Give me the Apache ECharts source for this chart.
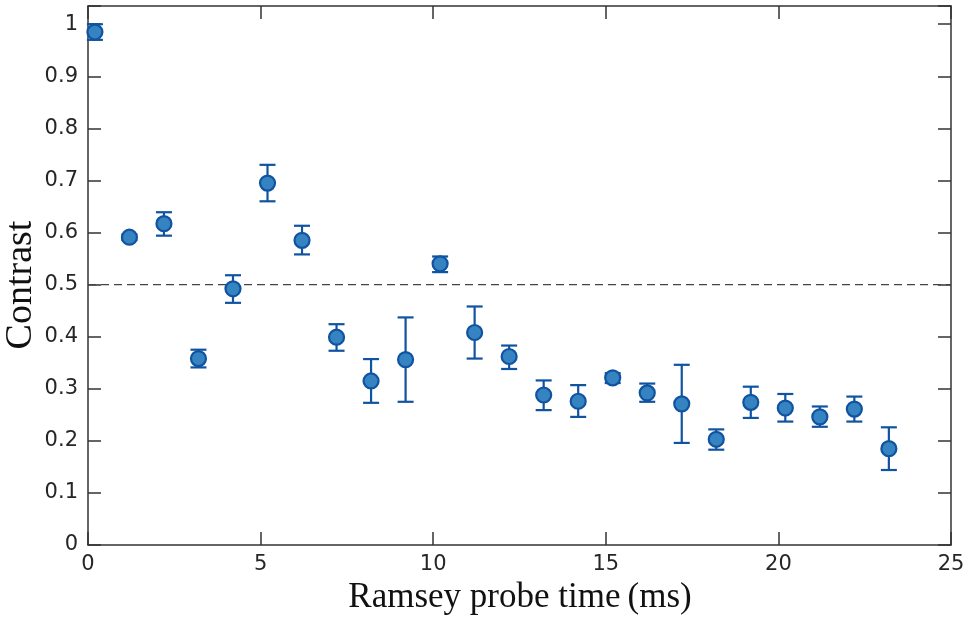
<!DOCTYPE html>
<html>
<head>
<meta charset="utf-8">
<script src="https://cdn.jsdelivr.net/npm/echarts@6/dist/echarts.min.js"></script>
<style>
  html, body { margin: 0; padding: 0; background: #fff; }
  #chart { width: 969px; height: 621px; }
</style>
</head>
<body>
<div id="chart"></div>
<script>
// Ramsey probe time (ms)
const probeTime = [0.2, 1.2, 2.2, 3.2, 4.2, 5.2, 6.2, 7.2, 8.2, 9.2, 10.2, 11.2,
                   12.2, 13.2, 14.2, 15.2, 16.2, 17.2, 18.2, 19.2, 20.2, 21.2, 22.2, 23.2];
// Measured contrast
const contrast = [0.985, 0.591, 0.617, 0.358, 0.492, 0.695, 0.585, 0.399, 0.315, 0.356, 0.540, 0.408,
                  0.362, 0.288, 0.276, 0.321, 0.292, 0.271, 0.203, 0.274, 0.263, 0.246, 0.261, 0.185];
// Error bar ends
const errLow  = [0.970, 0.586, 0.594, 0.341, 0.465, 0.660, 0.558, 0.373, 0.273, 0.275, 0.524, 0.358,
                 0.338, 0.259, 0.246, 0.311, 0.275, 0.196, 0.183, 0.244, 0.237, 0.227, 0.237, 0.144];
const errHigh = [1.000, 0.596, 0.639, 0.375, 0.518, 0.730, 0.613, 0.424, 0.357, 0.437, 0.554, 0.458,
                 0.383, 0.316, 0.307, 0.330, 0.310, 0.346, 0.222, 0.304, 0.290, 0.266, 0.285, 0.226];
// Reference level
const threshold = 0.5;

const xTicks = { min: 0, max: 25, interval: 5 };
const yTicks = { min: 0, max: 1.035, interval: 0.1 };

const xTitle = 'Ramsey probe time\u2009(ms)';
const yTitle = 'Contrast';

const axisColor = '#333';
const labelColor = '#262626';
const markColor = '#1053a0';
const fillColor = '#3583c1';
const labelFont = 'DejaVu Sans';

const points = probeTime.map((t, i) => [t, contrast[i]]);
const bars = probeTime.map((t, i) => [t, errLow[i], errHigh[i]]);

function yLabel(v) {
  const r = Math.round(v * 10) / 10;
  if (Math.abs(r - v) > 1e-6 || v > 1.0001) return '';
  return String(r);
}

function frameAxis(extra) {
  return Object.assign({
    axisLine: { show: true, onZero: false, lineStyle: { color: axisColor, width: 1.5 } },
    axisTick: { show: true, inside: true, length: 13, lineStyle: { color: axisColor, width: 1.5 } },
    splitLine: { show: false }
  }, extra);
}

const chart = echarts.init(document.getElementById('chart'), null, { renderer: 'canvas' });

chart.setOption({
  animation: false,
  grid: { left: 88, right: 18, top: 6, bottom: 76, containLabel: false, outerBoundsMode: 'none' },
  xAxis: [
    frameAxis({
      type: 'value', position: 'bottom',
      min: xTicks.min, max: xTicks.max, interval: xTicks.interval,
      axisLabel: { color: labelColor, fontFamily: labelFont, fontSize: 21, margin: 9 }
    }),
    frameAxis({
      type: 'value', position: 'top',
      min: xTicks.min, max: xTicks.max, interval: xTicks.interval,
      axisLabel: { show: false }
    })
  ],
  yAxis: [
    frameAxis({
      type: 'value', position: 'left',
      min: yTicks.min, max: yTicks.max, interval: yTicks.interval,
      axisLabel: { color: labelColor, fontFamily: labelFont, fontSize: 21, margin: 10, formatter: yLabel }
    }),
    frameAxis({
      type: 'value', position: 'right',
      min: yTicks.min, max: yTicks.max, interval: yTicks.interval,
      axisLabel: { show: false }
    })
  ],
  graphic: [
    {
      type: 'text', x: 520, y: 598,
      style: { text: xTitle, font: '35px "Liberation Serif"', fill: '#111',
               align: 'center', verticalAlign: 'middle' }
    },
    {
      type: 'text', x: 21, y: 285, rotation: Math.PI / 2,
      style: { text: yTitle, font: '38px "Liberation Serif"', fill: '#111',
               align: 'center', verticalAlign: 'middle' }
    }
  ],
  series: [
    {
      type: 'line',
      data: [[xTicks.min, threshold], [xTicks.max, threshold]],
      symbol: 'none', silent: true,
      lineStyle: { color: '#444', width: 1.3, type: [8, 5] },
      z: 1
    },
    {
      type: 'custom',
      data: bars,
      encode: { x: 0, y: [1, 2] },
      z: 2,
      renderItem: function (params, api) {
        const x = api.value(0);
        const lo = api.coord([x, api.value(1)]);
        const hi = api.coord([x, api.value(2)]);
        const half = 8;
        const style = { stroke: markColor, lineWidth: 2.2 };
        return {
          type: 'group',
          children: [
            { type: 'line', shape: { x1: lo[0], y1: lo[1], x2: hi[0], y2: hi[1] }, style: style },
            { type: 'line', shape: { x1: lo[0] - half, y1: lo[1], x2: lo[0] + half, y2: lo[1] }, style: style },
            { type: 'line', shape: { x1: hi[0] - half, y1: hi[1], x2: hi[0] + half, y2: hi[1] }, style: style }
          ]
        };
      }
    },
    {
      type: 'scatter',
      data: points,
      symbol: 'circle', symbolSize: 15,
      itemStyle: { color: fillColor, borderColor: markColor, borderWidth: 2.2, opacity: 1 },
      z: 3
    }
  ]
});
</script>
</body>
</html>
